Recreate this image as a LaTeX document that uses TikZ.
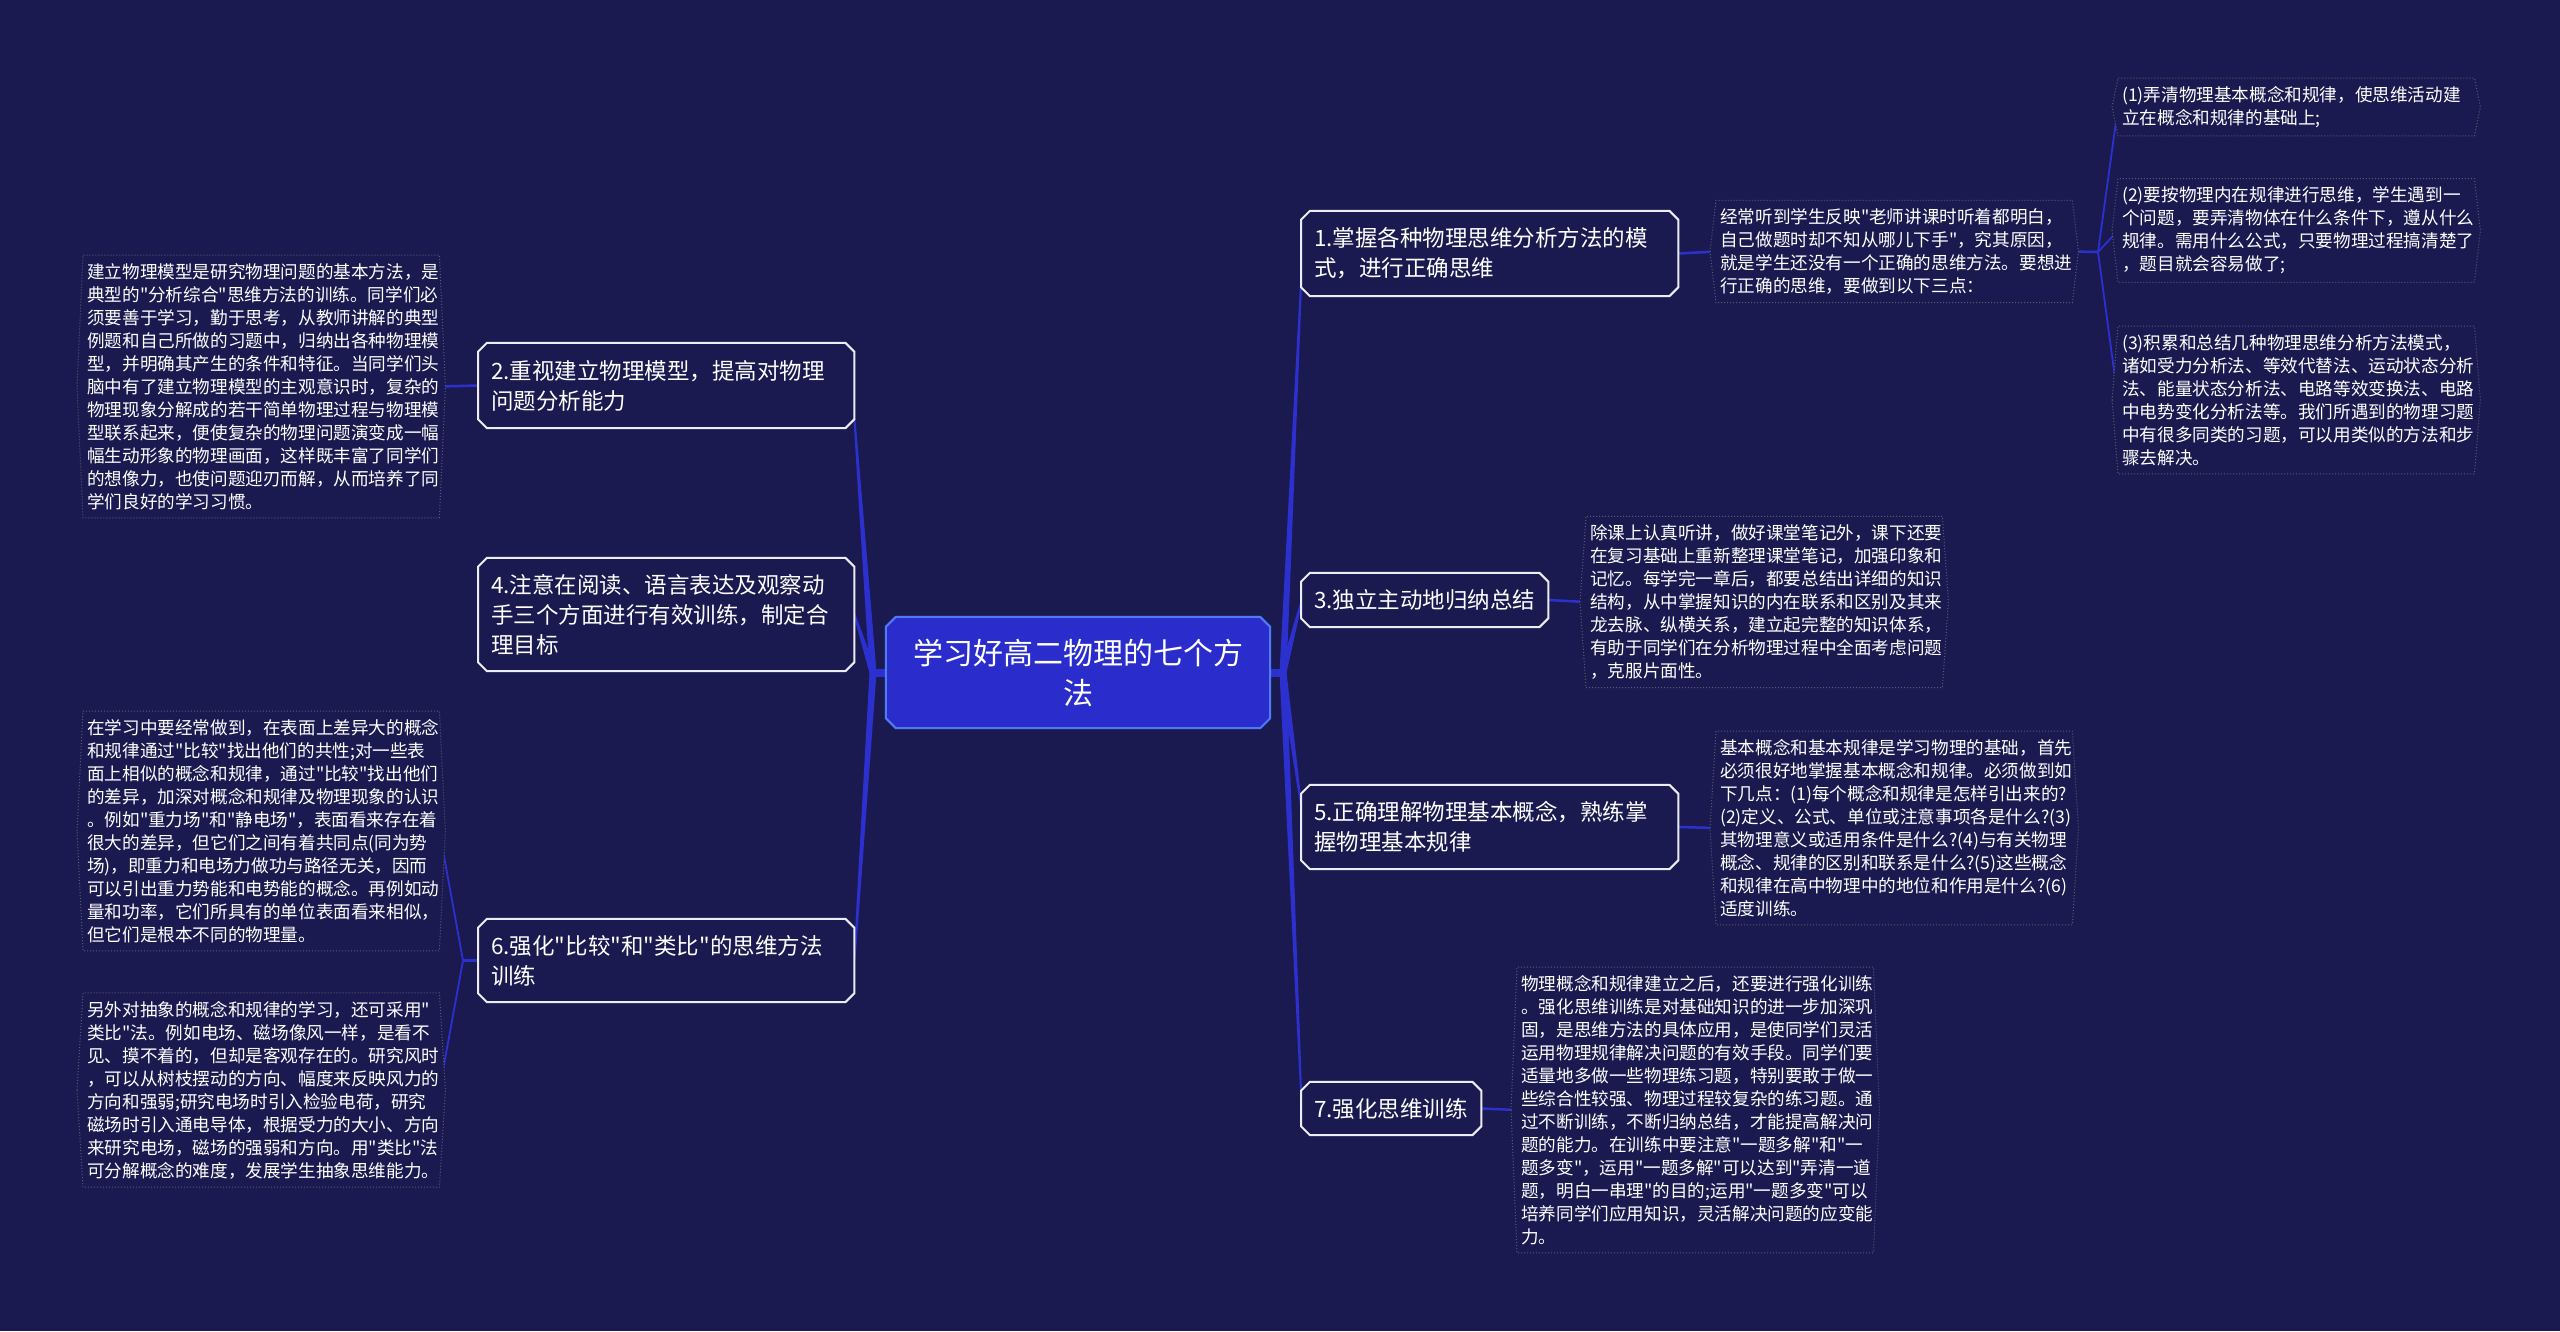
\documentclass[tikz,border=0pt]{standalone}
\usepackage{fontspec}
\setmainfont{Noto Sans CJK SC}[Ligatures=TeXOff]
\usetikzlibrary{calc}
\pgfdeclarelayer{background}
\pgfsetlayers{background,main}
\definecolor{bgc}{HTML}{1B1A50}
\definecolor{conncol}{HTML}{2B30CF}
\definecolor{rootfill}{HTML}{2A2DCC}
\definecolor{rootborder}{HTML}{4F7BF7}
\definecolor{branchborder}{HTML}{ECECF4}
\definecolor{dotc}{HTML}{5A5A72}
\newcommand\chbox[3]{\draw[#3] ([xshift=#2]#1.north west) -- ([xshift=-#2]#1.north east) -- ([yshift=-#2]#1.north east) -- ([yshift=#2]#1.south east) -- ([xshift=-#2]#1.south east) -- ([xshift=#2]#1.south west) -- ([yshift=#2]#1.south west) -- ([yshift=-#2]#1.north west) -- cycle;}
\newcommand\hexbox[2]{\draw[#2] ([xshift=-6pt]#1.west) -- (#1.north west) -- (#1.north east) -- ([xshift=6pt]#1.east) -- (#1.south east) -- (#1.south west) -- cycle;}
\newcommand\taper[4]{\fill[conncol] ($(#1)!#3!90:(#2)$) -- ($(#2)!#4!-90:(#1)$) -- ($(#2)!#4!90:(#1)$) -- ($(#1)!#3!-90:(#2)$) -- cycle;}
\begin{document}
\begin{tikzpicture}[x=1pt,y=-1pt,
  leaf/.style={font=\fontsize{17.6}{23}\selectfont, text=white, align=left, text width=348pt, inner xsep=4pt, inner ysep=8pt, anchor=west},
  branch/.style={font=\fontsize{22.5}{30}\selectfont, text=white, align=left, inner xsep=13pt, inner ysep=0pt, anchor=west},
  root/.style={font=\fontsize{30}{40}\selectfont, text=white, align=center, minimum width=384pt, minimum height=111pt, text width=360pt, inner sep=0pt},
  rootbox/.style={fill=rootfill, draw=rootborder, line width=2pt},
  branchbox/.style={fill=bgc, draw=branchborder, line width=2pt},
  leafbox/.style={fill=bgc, draw=dotc, dotted, line width=1pt},
  conn/.style={draw=conncol, line width=2.5pt}]
\useasboundingbox (0,0) rectangle (2560,1331);
\begin{pgfonlayer}{background}
\fill[bgc] (0,0) rectangle (2560,1331);
\end{pgfonlayer}

% root
\node[root] (root) at (1078,672.5) {学习好高二物理的七个方\\法};

% branches
\node[branch, text width=351pt, minimum height=85pt] (n1) at (1301,253.5) {1.掌握各种物理思维分析方法的模\\式，进行正确思维};
\node[branch, text width=221pt, minimum height=54pt] (n3) at (1301,600) {3.独立主动地归纳总结};
\node[branch, text width=351pt, minimum height=84pt] (n5) at (1301,827) {5.正确理解物理基本概念，熟练掌\\握物理基本规律};
\node[branch, text width=154pt, minimum height=53pt] (n7) at (1301,1108.5) {7.强化思维训练};
\node[branch, text width=350pt, minimum height=85pt] (n2) at (478,385.5) {2.重视建立物理模型，提高对物理\\问题分析能力};
\node[branch, text width=350pt, minimum height=113pt] (n4) at (478,614.5) {4.注意在阅读、语言表达及观察动\\手三个方面进行有效训练，制定合\\理目标};
\node[branch, text width=350pt, minimum height=83pt] (n6) at (478,960.5) {6.强化"比较"和"类比"的思维方法\\训练};

% leaves
\node[leaf] (L2) at (83,386.5) {建立物理模型是研究物理问题的基本方法，是\\典型的"分析综合"思维方法的训练。同学们必\\须要善于学习，勤于思考，从教师讲解的典型\\例题和自己所做的习题中，归纳出各种物理模\\型，并明确其产生的条件和特征。当同学们头\\脑中有了建立物理模型的主观意识时，复杂的\\物理现象分解成的若干简单物理过程与物理模\\型联系起来，便使复杂的物理问题演变成一幅\\幅生动形象的物理画面，这样既丰富了同学们\\的想像力，也使问题迎刃而解，从而培养了同\\学们良好的学习习惯。};
\node[leaf] (L6a) at (83,831) {在学习中要经常做到，在表面上差异大的概念\\和规律通过"比较"找出他们的共性;对一些表\\面上相似的概念和规律，通过"比较"找出他们\\的差异，加深对概念和规律及物理现象的认识\\。例如"重力场"和"静电场"，表面看来存在着\\很大的差异，但它们之间有着共同点(同为势\\场)，即重力和电场力做功与路径无关，因而\\可以引出重力势能和电势能的概念。再例如动\\量和功率，它们所具有的单位表面看来相似，\\但它们是根本不同的物理量。};
\node[leaf] (L6b) at (83,1090) {另外对抽象的概念和规律的学习，还可采用"\\类比"法。例如电场、磁场像风一样，是看不\\见、摸不着的，但却是客观存在的。研究风时\\，可以从树枝摆动的方向、幅度来反映风力的\\方向和强弱;研究电场时引入检验电荷，研究\\磁场时引入通电导体，根据受力的大小、方向\\来研究电场，磁场的强弱和方向。用"类比"法\\可分解概念的难度，发展学生抽象思维能力。};
\node[leaf] (L1) at (1716,251.5) {经常听到学生反映"老师讲课时听着都明白，\\自己做题时却不知从哪儿下手"，究其原因，\\就是学生还没有一个正确的思维方法。要想进\\行正确的思维，要做到以下三点：};
\node[leaf] (S1) at (2118,107) {(1)弄清物理基本概念和规律，使思维活动建\\立在概念和规律的基础上;};
\node[leaf] (S2) at (2118,230.5) {(2)要按物理内在规律进行思维，学生遇到一\\个问题，要弄清物体在什么条件下，遵从什么\\规律。需用什么公式，只要物理过程搞清楚了\\，题目就会容易做了;};
\node[leaf] (S3) at (2118,400) {(3)积累和总结几种物理思维分析方法模式，\\诸如受力分析法、等效代替法、运动状态分析\\法、能量状态分析法、电路等效变换法、电路\\中电势变化分析法等。我们所遇到的物理习题\\中有很多同类的习题，可以用类似的方法和步\\骤去解决。};
\node[leaf] (L3) at (1586,602) {除课上认真听讲，做好课堂笔记外，课下还要\\在复习基础上重新整理课堂笔记，加强印象和\\记忆。每学完一章后，都要总结出详细的知识\\结构，从中掌握知识的内在联系和区别及其来\\龙去脉、纵横关系，建立起完整的知识体系，\\有助于同学们在分析物理过程中全面考虑问题\\，克服片面性。};
\node[leaf] (L5) at (1716,828) {基本概念和基本规律是学习物理的基础，首先\\必须很好地掌握基本概念和规律。必须做到如\\下几点：(1)每个概念和规律是怎样引出来的?\\(2)定义、公式、单位或注意事项各是什么?(3)\\其物理意义或适用条件是什么?(4)与有关物理\\概念、规律的区别和联系是什么?(5)这些概念\\和规律在高中物理中的地位和作用是什么?(6)\\适度训练。};
\node[leaf] (L7) at (1517,1110) {物理概念和规律建立之后，还要进行强化训练\\。强化思维训练是对基础知识的进一步加深巩\\固，是思维方法的具体应用，是使同学们灵活\\运用物理规律解决问题的有效手段。同学们要\\适量地多做一些物理练习题，特别要敢于做一\\些综合性较强、物理过程较复杂的练习题。通\\过不断训练，不断归纳总结，才能提高解决问\\题的能力。在训练中要注意"一题多解"和"一\\题多变"，运用"一题多解"可以达到"弄清一道\\题，明白一串理"的目的;运用"一题多变"可以\\培养同学们应用知识，灵活解决问题的应变能\\力。};

% junctions and targets
\coordinate (jl) at (873,672.5);
\coordinate (jr) at (1283,672.5);
\coordinate (js) at (2098,252);
\coordinate (j6) at (463,960.5);
\coordinate (t1) at ([yshift=-31pt]n1.west);
\coordinate (t3) at ([yshift=-3pt]n3.west);
\coordinate (t5) at ([yshift=22pt]n5.west);
\coordinate (t7) at ([yshift=18pt]n7.west);
\coordinate (t2) at ([yshift=-33pt]n2.east);
\coordinate (t4) at (n4.east);
\coordinate (t6) at (n6.east);

\begin{pgfonlayer}{background}
% root connectors
\draw[conncol, line width=8pt] (root.west) -- (jl);
\draw[conncol, line width=8pt] (root.east) -- (jr);
\taper{jl}{t2}{3.5pt}{1pt}
\taper{jl}{t4}{3.5pt}{1pt}
\taper{jl}{t6}{3.5pt}{1pt}
\taper{jr}{t1}{3.5pt}{1pt}
\taper{jr}{t3}{3.5pt}{1pt}
\taper{jr}{t5}{3.5pt}{1pt}
\taper{jr}{t7}{3.5pt}{1pt}
% leaf connectors
\draw[conn] (n1.east) -- (L1.west);
\draw[conn] (n3.east) -- (L3.west);
\draw[conn] (n5.east) -- (L5.west);
\draw[conn] (n7.east) -- (L7.west);
\draw[conn] (n2.west) -- (L2.east);
\draw[conn] (n6.west) -- (j6);
\draw[conn, line width=1.8pt] (j6) -- (L6a.east);
\draw[conn, line width=1.8pt] (j6) -- (L6b.east);
\draw[conn] (L1.east) -- (js);
\draw[conn, line width=1.8pt] (js) -- (S1.west);
\draw[conn, line width=1.8pt] (js) -- (S2.west);
\draw[conn, line width=1.8pt] (js) -- (S3.west);
% boxes
\chbox{root}{10pt}{rootbox}
\chbox{n1}{9pt}{branchbox}
\chbox{n2}{9pt}{branchbox}
\chbox{n3}{9pt}{branchbox}
\chbox{n4}{9pt}{branchbox}
\chbox{n5}{9pt}{branchbox}
\chbox{n6}{9pt}{branchbox}
\chbox{n7}{9pt}{branchbox}
\hexbox{L2}{leafbox}
\hexbox{L6a}{leafbox}
\hexbox{L6b}{leafbox}
\hexbox{L1}{leafbox}
\hexbox{S1}{leafbox}
\hexbox{S2}{leafbox}
\hexbox{S3}{leafbox}
\hexbox{L3}{leafbox}
\hexbox{L5}{leafbox}
\hexbox{L7}{leafbox}
\end{pgfonlayer}
\end{tikzpicture}
\end{document}
